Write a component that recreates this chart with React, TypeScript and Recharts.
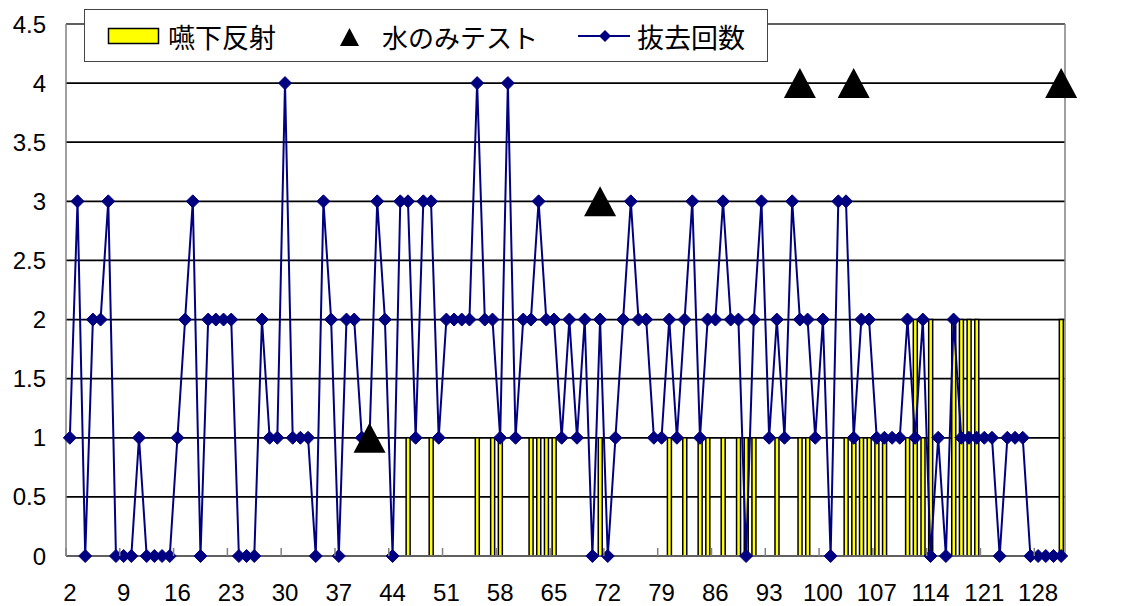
import { ComposedChart, Bar, Line, XAxis, YAxis, CartesianGrid, ReferenceLine, Legend } from 'recharts';

// day labels on the category axis
const days = [
  2, 3, 4, 5, 6, 7, 8, 9, 10, 11, 12, 13, 14, 15, 16, 17, 18, 19, 20, 21,
  22, 23, 24, 25, 26, 27, 28, 29, 30, 31, 32, 33, 34, 35, 36, 37, 38, 39, 40, 41,
  42, 43, 44, 45, 46, 47, 48, 49, 50, 51, 52, 53, 54, 55, 56, 57, 58, 59, 60, 61,
  62, 63, 64, 65, 66, 67, 68, 69, 70, 71, 72, 73, 74, 75, 76, 77, 78, 79, 80, 81,
  82, 83, 84, 85, 86, 87, 88, 89, 90, 91, 92, 93, 94, 95, 96, 97, 98, 99, 100, 101,
  102, 103, 104, 105, 106, 107, 108, 109, 110, 111, 112, 113, 114, 115, 116, 117, 118, 119, 120, 121,
  122, 123, 124, 125, 126, 127, 128, 129, 130, 131,
];

// 抜去回数, one value per day
const removalCounts = [
  1, 3, 0, 2, 2, 3, 0, 0, 0, 1,
  0, 0, 0, 0, 1, 2, 3, 0, 2, 2,
  2, 2, 0, 0, 0, 2, 1, 1, 4, 1,
  1, 1, 0, 3, 2, 0, 2, 2, 1, 1,
  3, 2, 0, 3, 3, 1, 3, 3, 1, 2,
  2, 2, 2, 4, 2, 2, 1, 4, 1, 2,
  2, 3, 2, 2, 1, 2, 1, 2, 0, 2,
  0, 1, 2, 3, 2, 2, 1, 1, 2, 1,
  2, 3, 1, 2, 2, 3, 2, 2, 0, 2,
  3, 1, 2, 1, 3, 2, 2, 1, 2, 0,
  3, 3, 1, 2, 2, 1, 1, 1, 1, 2,
  1, 2, 0, 1, 0, 2, 1, 1, 1, 1,
  1, 0, 1, 1, 1, 0, 0, 0, 0, 0,
];

// 嚥下反射: [day, value]
const swallowReflex: [number, number][] = [
  [46, 1], [49, 1], [55, 1], [57, 1], [58, 1], [62, 1], [63, 1], [64, 1], [65, 1],
  [71, 1], [80, 1], [82, 1], [84, 1], [85, 1], [87, 1], [89, 1], [90, 1], [91, 1],
  [94, 1], [97, 1], [98, 1], [103, 1], [104, 1], [105, 1], [106, 1], [107, 1], [108, 1],
  [111, 1], [112, 2], [113, 1], [114, 2], [117, 2], [118, 2], [119, 2], [120, 2], [131, 2],
];

// 水のみテスト: [day, value]
const waterTest: [number, number][] = [
  [41, 1], [71, 3], [97, 4], [104, 4], [131, 4],
];

const yTicks = [0, 0.5, 1, 1.5, 2, 2.5, 3, 3.5, 4, 4.5];

const swallowMap = new Map(swallowReflex);
const waterMap = new Map(waterTest);

const data = days.map((day, i) => ({
  day,
  removal: removalCounts[i],
  swallow: swallowMap.get(day) ?? null,
  water: waterMap.get(day) ?? null,
}));

const NAVY = '#000080';
const GRAY = '#808080';
const FONT = '"Liberation Sans", Arial, sans-serif';
const JP_FONT = '"Noto Sans CJK JP", sans-serif';
const BAND = 999 / 130;

const XTick = (props: any) => {
  const { x, y, payload } = props;
  return (
    <g>
      <line x1={x - BAND / 2} x2={x - BAND / 2} y1={y} y2={y - 8} stroke={GRAY} strokeWidth={1.5} />
      <text x={x} y={y + 45} textAnchor="middle" fontSize={24} fontFamily={FONT} fill="#000">
        {payload.value}
      </text>
    </g>
  );
};

const Diamond = (props: any) => {
  const { cx, cy, index } = props;
  if (cx == null || cy == null) return <g key={index} />;
  const r = 6.5;
  return (
    <polygon
      key={index}
      points={`${cx},${cy - r} ${cx + r},${cy} ${cx},${cy + r} ${cx - r},${cy}`}
      fill={NAVY}
      stroke={NAVY}
    />
  );
};

const Triangle = (props: any) => {
  const { cx, cy, index, value } = props;
  if (value == null || cx == null || cy == null) return <g key={index} />;
  return (
    <polygon
      key={index}
      points={`${cx},${cy - 15} ${cx + 16},${cy + 15} ${cx - 16},${cy + 15}`}
      fill="#000"
    />
  );
};

const LegendBox = () => (
  <svg width={684} height={53} style={{ display: 'block' }}>
    <rect x={0.5} y={0.5} width={683} height={52} fill="#fff" stroke="#444" />
    <rect x={24.5} y={19.5} width={50} height={15} fill="#ffff00" stroke="#000" strokeWidth={1.5} />
    <text x={84} y={27} dominantBaseline="central" fontSize={27} fontFamily={JP_FONT} fill="#000">嚥下反射</text>
    <polygon points="265.5,19 275,37 256,37" fill="#000" />
    <text x={298} y={27} dominantBaseline="central" fontSize={26} fontFamily={JP_FONT} fill="#000">水のみテスト</text>
    <line x1={494} x2={546} y1={27} y2={27} stroke={NAVY} strokeWidth={2} />
    <polygon points="521,21 527,27 521,33 515,27" fill={NAVY} />
    <text x={553} y={27} dominantBaseline="central" fontSize={27} fontFamily={JP_FONT} fill="#000">抜去回数</text>
  </svg>
);

const App = () => {
  return (
    <div style={{ position: 'absolute', left: 0, top: 0, background: '#fff' }}>
      <ComposedChart width={1132} height={606} data={data} margin={{ top: 24, right: 0, bottom: 0, left: 0 }}>
        <CartesianGrid vertical={false} stroke="#000" strokeWidth={1.8} />
        <XAxis
          dataKey="day"
          type="category"
          interval={6}
          height={50}
          tickSize={0}
          tickMargin={0}
          tickLine={false}
          axisLine={{ stroke: GRAY, strokeWidth: 1.5 }}
          tick={<XTick />}
        />
        <YAxis
          domain={[0, 4.5]}
          ticks={yTicks}
          width={66}
          tickSize={0}
          tickMargin={20}
          tickLine={false}
          axisLine={{ stroke: GRAY, strokeWidth: 1.5 }}
          tick={{ fontSize: 24, fill: '#000', fontFamily: FONT }}
        />
        <YAxis
          yAxisId="right"
          orientation="right"
          domain={[0, 4.5]}
          ticks={yTicks}
          width={67}
          tickSize={0}
          tickMargin={20}
          tickLine={false}
          axisLine={{ stroke: GRAY, strokeWidth: 1.5 }}
          tick={{ fontSize: 24, fill: '#000', fontFamily: FONT, textAnchor: 'start' }}
        />
        <ReferenceLine y={4.5} stroke={GRAY} strokeWidth={1.5} />
        <Legend
          layout="vertical"
          align="center"
          verticalAlign="middle"
          wrapperStyle={{ position: 'absolute', left: 84, top: 9, width: 684, height: 53 }}
          content={<LegendBox />}
        />
        <Bar dataKey="swallow" name="嚥下反射" barSize={4} fill="#ffff00" stroke="#000" strokeWidth={1.5} isAnimationActive={false} />
        <Line
          type="linear"
          dataKey="removal"
          name="抜去回数"
          stroke={NAVY}
          strokeWidth={2}
          dot={<Diamond />}
          activeDot={false}
          isAnimationActive={false}
        />
        <Line
          type="linear"
          dataKey="water"
          name="水のみテスト"
          stroke="none"
          dot={<Triangle />}
          activeDot={false}
          isAnimationActive={false}
        />
      </ComposedChart>
    </div>
  );
};

export default App;
